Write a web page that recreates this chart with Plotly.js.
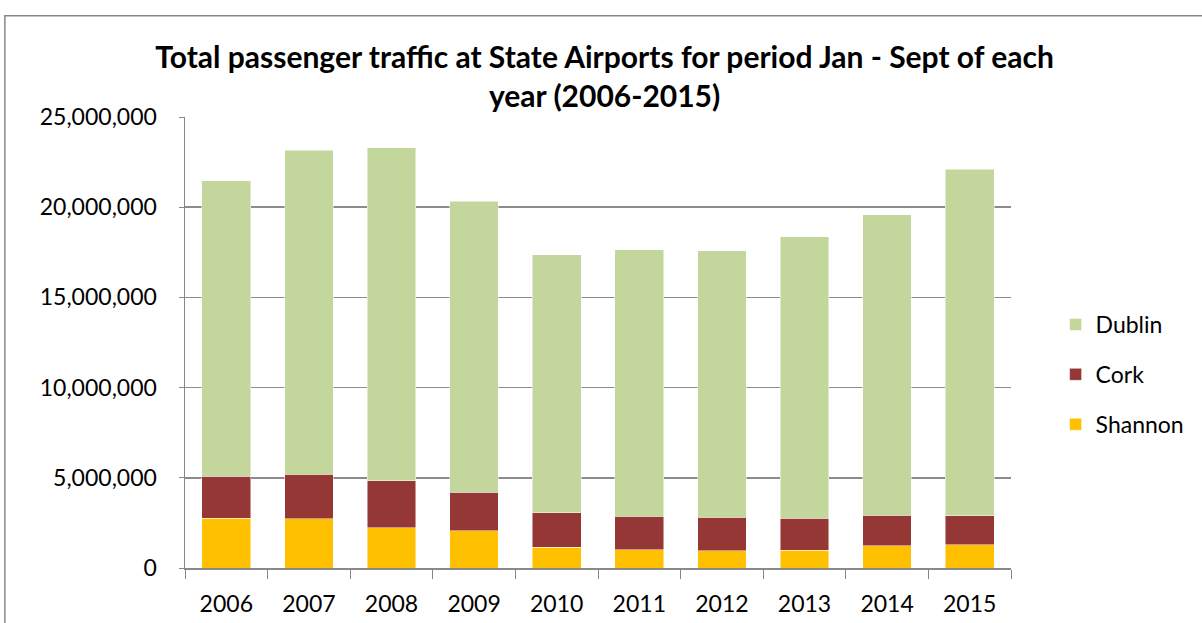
<!DOCTYPE html>
<html>
<head>
<meta charset="utf-8">
<script src="https://cdn.plot.ly/plotly-3.0.1.min.js"></script>
<style>html,body{margin:0;padding:0;background:#fff;}#chart{width:1202px;height:623px;}</style>
</head>
<body>
<div id="chart"></div>
<script>
const years = ['2006','2007','2008','2009','2010','2011','2012','2013','2014','2015'];
const shannon = [2760000, 2740000, 2240000, 2060000, 1150000, 1020000, 970000, 990000, 1230000, 1290000];
const cork = [2330000, 2460000, 2590000, 2140000, 1920000, 1850000, 1830000, 1770000, 1700000, 1620000];
const dublin = [16380000, 17950000, 18470000, 16140000, 14300000, 14760000, 14790000, 15590000, 16640000, 19190000];
const yTicks = [0, 5000000, 10000000, 15000000, 20000000, 25000000];
const yTickText = ['0', '5,000,000', '10,000,000', '15,000,000', '20,000,000', '25,000,000'];

const font = 'Lato, "Open Sans", sans-serif';
const mk = (name, y, color, grp, rank) => ({
  type: 'bar', name: name, x: years, y: y, legendgroup: grp, legendrank: rank,
  marker: {color: color, line: {color: 'rgba(255,255,255,0.6)', width: 0.8}},
  hoverinfo: 'x+y+name'
});
const data = [
  mk('Shannon', shannon, '#FFC000', 'c', 3),
  mk('Cork', cork, '#953735', 'b', 2),
  mk('Dublin', dublin, '#C3D69B', 'a', 1)
];
const layout = {
  width: 1202, height: 623,
  margin: {l: 185, r: 187, t: 117, b: 55},
  paper_bgcolor: '#ffffff', plot_bgcolor: '#ffffff',
  barmode: 'stack', bargap: 0.41,
  font: {family: font, size: 23, color: '#000'},
  title: {
    text: '<b>Total passenger traffic at State Airports for period Jan - Sept of each<br>year (2006-2015)</b>',
    x: 0.508, xanchor: 'center', xref: 'paper',
    y: 1 - 68/623, yanchor: 'middle', yref: 'container',
    font: {family: font, size: 30, color: '#000'}
  },
  xaxis: {
    type: 'category', tickson: 'boundaries', ticks: 'outside', ticklen: 9, tickcolor: '#888',
    showline: true, linecolor: '#888', linewidth: 1.5, showgrid: false,
    tickfont: {family: font, size: 23}, ticklabelstandoff: 15
  },
  yaxis: {
    range: [0, 25000000], tickvals: yTicks, ticktext: yTickText,
    ticks: 'outside', ticklen: 5, tickcolor: '#888',
    showline: true, linecolor: '#888', linewidth: 1.5,
    showgrid: true, gridcolor: '#8c8c8c', gridwidth: 1.5, zeroline: false,
    tickfont: {family: font, size: 23}, ticklabelstandoff: 17
  },
  legend: {
    x: 1.054, xanchor: 'left', y: 0.429, yanchor: 'middle',
    traceorder: 'grouped', tracegroupgap: 17,
    font: {family: font, size: 23}, bgcolor: 'rgba(0,0,0,0)'
  },
  shapes: [{
    type: 'rect', xref: 'paper', yref: 'paper',
    x0: (4-185)/830, x1: 1.5, y0: -0.5, y1: (568.5-16)/451.2,
    line: {color: '#888', width: 1.5}, fillcolor: 'rgba(0,0,0,0)', layer: 'below'
  }],
  showlegend: true
};
Plotly.newPlot('chart', data, layout, {displayModeBar: false, staticPlot: true});
</script>
</body>
</html>
